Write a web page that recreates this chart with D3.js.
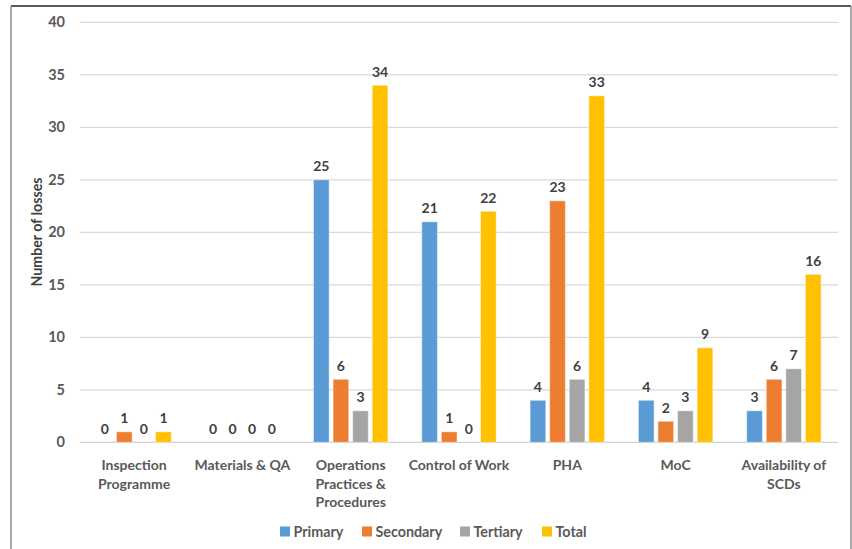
<!DOCTYPE html>
<html>
<head>
<meta charset="utf-8">
<script src="https://cdn.jsdelivr.net/npm/d3@7"></script>
<style>
  html, body { margin: 0; padding: 0; background: #fff; }
  svg { display: block; font-family: Lato, "Open Sans", sans-serif; }
</style>
</head>
<body>
<svg id="chart" width="852" height="549"></svg>
<script>
// Loss counts by process-safety element
const categories = [
  ["Inspection", "Programme"],
  ["Materials & QA"],
  ["Operations", "Practices &", "Procedures"],
  ["Control of Work"],
  ["PHA"],
  ["MoC"],
  ["Availability of", "SCDs"]
];
const seriesNames = ["Primary", "Secondary", "Tertiary", "Total"];
const primary   = [0, 0, 25, 21, 4, 4, 3];
const secondary = [1, 0, 6, 1, 23, 2, 6];
const tertiary  = [0, 0, 3, 0, 6, 3, 7];
const total     = [1, 0, 34, 22, 33, 9, 16];
const yTicks = [0, 5, 10, 15, 20, 25, 30, 35, 40];
const colors = ["#5B9BD5", "#ED7D31", "#A5A5A5", "#FFC000"];

const series = [primary, secondary, tertiary, total];

const svg = d3.select("#chart");
const margin = { left: 80, right: 14 };
const H = 549;

// Outer frame
svg.append("line").attr("x1", 11).attr("x2", 851).attr("y1", 6).attr("y2", 6)
  .attr("stroke", "#222").attr("stroke-width", 1.5);
svg.append("line").attr("x1", 11).attr("x2", 11).attr("y1", 6).attr("y2", H)
  .attr("stroke", "#8a8a8a").attr("stroke-width", 1.5);
svg.append("line").attr("x1", 851).attr("x2", 851).attr("y1", 6).attr("y2", H)
  .attr("stroke", "#8a8a8a").attr("stroke-width", 1.5);

const x0 = d3.scaleBand()
  .domain(d3.range(categories.length))
  .range([margin.left, 838])
  .paddingInner(0.313)
  .paddingOuter(0.156);

const x1 = d3.scaleBand()
  .domain(d3.range(seriesNames.length))
  .range([0, x0.bandwidth()])
  .paddingInner(0.2);

const y = d3.scaleLinear().domain([0, 40]).range([442.3, 22.3]);

// Gridlines
svg.append("g")
  .selectAll("line")
  .data(yTicks)
  .join("line")
  .attr("x1", margin.left).attr("x2", 838)
  .attr("y1", d => y(d)).attr("y2", d => y(d))
  .attr("stroke", d => d === 0 ? "#d0d0d0" : "#d9d9d9")
  .attr("stroke-width", 1.2);

// Y axis labels
const yAxis = d3.axisLeft(y).tickValues(yTicks).tickSize(0).tickPadding(0);
const yg = svg.append("g").attr("transform", "translate(65,0)").call(yAxis);
yg.select(".domain").remove();
yg.selectAll("text")
  .attr("fill", "#595959")
  .attr("font-size", "14.5px")
  .attr("font-weight", "bold")
  .attr("font-family", "Lato, sans-serif");

// Y axis title
svg.append("text")
  .attr("transform", "translate(42,232) rotate(-90)")
  .attr("text-anchor", "middle")
  .attr("fill", "#404040")
  .attr("font-size", "14.2px")
  .attr("font-weight", "bold")
  .text("Number of losses");

// Bars
const groups = svg.append("g")
  .selectAll("g")
  .data(categories.map((c, i) => i))
  .join("g")
  .attr("transform", i => `translate(${x0(i)},0)`);

groups.selectAll("rect")
  .data(i => series.map((s, k) => ({ k, v: s[i] })))
  .join("rect")
  .attr("x", d => x1(d.k))
  .attr("width", x1.bandwidth())
  .attr("y", d => y(d.v))
  .attr("height", d => y(0) - y(d.v))
  .attr("fill", d => colors[d.k])
  .attr("stroke", "#ffffff")
  .attr("stroke-opacity", 0.45)
  .attr("stroke-width", 1);

// Value labels
groups.selectAll("text.val")
  .data(i => series.map((s, k) => ({ k, v: s[i] })))
  .join("text")
  .attr("class", "val")
  .attr("x", d => x1(d.k) + x1.bandwidth() / 2)
  .attr("y", d => y(d.v) - 8.5)
  .attr("text-anchor", "middle")
  .attr("fill", "#404040")
  .attr("font-size", "14px")
  .attr("font-weight", "bold")
  .text(d => d.v);

// Category labels
const xg = svg.append("g");
categories.forEach((lines, i) => {
  const t = xg.append("text")
    .attr("text-anchor", "middle")
    .attr("fill", "#595959")
    .attr("font-size", "14px")
    .attr("font-weight", "bold");
  lines.forEach((ln, j) => {
    t.append("tspan")
      .attr("x", x0(i) + x0.bandwidth() / 2)
      .attr("y", 470 + j * 18.7)
      .text(ln);
  });
});

// Legend
const legendX = [280, 362, 460, 542];
const lg = svg.append("g");
seriesNames.forEach((name, k) => {
  lg.append("rect")
    .attr("x", legendX[k]).attr("y", 526.5)
    .attr("width", 10).attr("height", 10)
    .attr("fill", colors[k]);
  lg.append("text")
    .attr("x", legendX[k] + 13.5).attr("y", 536.5)
    .attr("fill", "#595959")
    .attr("font-size", "14.3px")
    .attr("font-weight", "bold")
    .text(name);
});
</script>
</body>
</html>
